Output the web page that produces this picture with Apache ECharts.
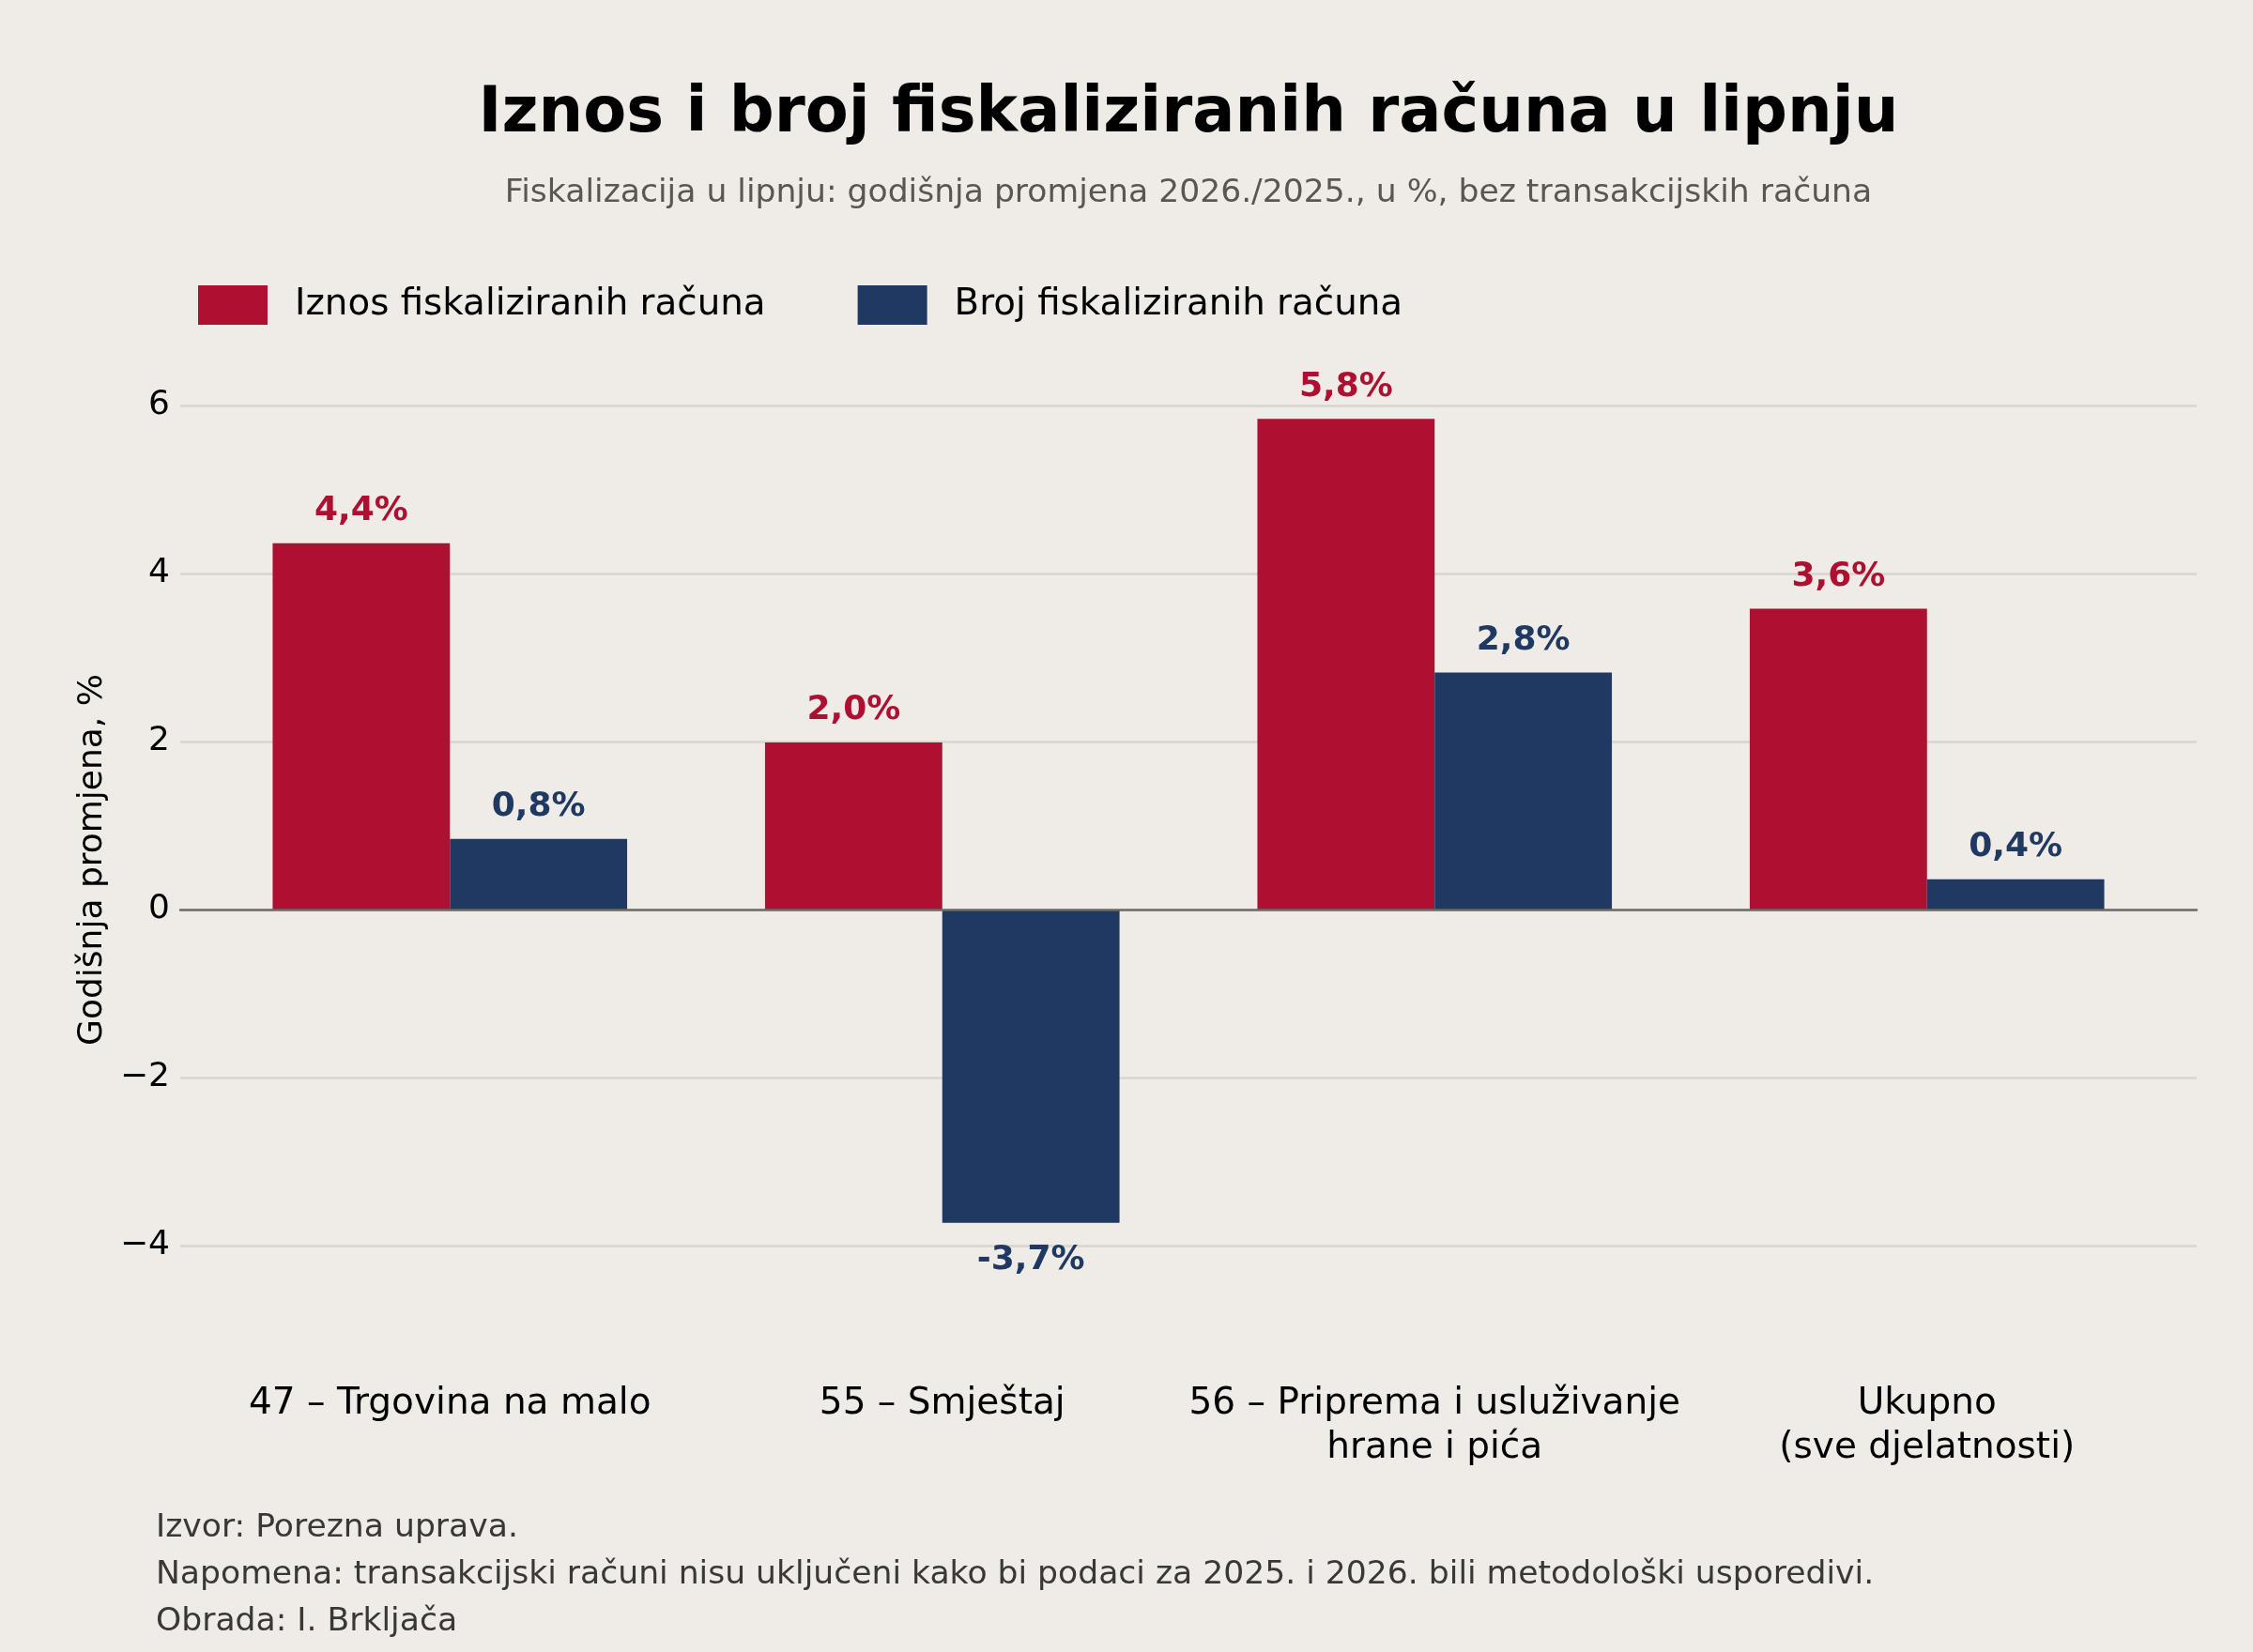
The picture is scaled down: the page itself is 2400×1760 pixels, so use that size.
<!DOCTYPE html>
<html>
<head>
<meta charset="utf-8">
<script src="https://cdn.jsdelivr.net/npm/echarts@6.0.0/dist/echarts.min.js"></script>
<style>
html, body { margin: 0; padding: 0; background: #efece7; }
#chart { width: 2400px; height: 1760px; }
</style>
</head>
<body>
<div id="chart"></div>
<script>
var kategorije = ['47 – Trgovina na malo', '55 – Smještaj', '56 – Priprema i usluživanje\nhrane i pića', 'Ukupno\n(sve djelatnosti)'];
var serije = ['Iznos fiskaliziranih računa', 'Broj fiskaliziranih računa'];
var iznos = [4.36, 1.99, 5.84, 3.58];
var broj = [0.84, -3.73, 2.82, 0.36];
var boje = ['#ad1031', '#1f3963'];

var font = 'DejaVu Sans';
var chart = echarts.init(document.getElementById('chart'));

// negativni stupci dobivaju oznaku ispod
function stavke(arr) {
	return arr.map(function (v) {
		return { value: v, label: { position: v < 0 ? 'bottom' : 'top', distance: v < 0 ? 22 : 16 } };
	});
}

function oznaka(p) {
	return p.value.toFixed(1).replace('.', ',') + '%';
}

var yOs = {
	type: 'value',
	min: -6,
	max: 8,
	interval: 2
};

var option = {
	backgroundColor: '#efece7',
	animation: false,
	title: [
		{
			text: 'Iznos i broj fiskaliziranih računa u lipnju',
			left: 1266, top: 89, textAlign: 'center', padding: 0,
			textStyle: { fontFamily: font, fontSize: 67, fontWeight: 'bold', color: '#000' }
		},
		{
			text: 'Fiskalizacija u lipnju: godišnja promjena 2026./2025., u %, bez transakcijskih računa',
			left: 1266, top: 189, textAlign: 'center', padding: 0,
			textStyle: { fontFamily: font, fontSize: 34.6, fontWeight: 'normal', color: '#5a5753' }
		},
		{
			text: 'Izvor: Porezna uprava.\nNapomena: transakcijski računi nisu uključeni kako bi podaci za 2025. i 2026. bili metodološki usporedivi.\nObrada: I. Brkljača',
			left: 166, top: 1603, padding: 0,
			textStyle: { fontFamily: font, fontSize: 34.6, fontWeight: 'normal', color: '#3a3835', lineHeight: 50 }
		}
	],
	legend: {
		data: serije,
		left: 206, top: 299,
		itemWidth: 74, itemHeight: 42, itemGap: 98,
		icon: 'rect',
		textStyle: { fontFamily: font, fontSize: 38.8, color: '#000', padding: [0, 0, 0, 24] }
	},
	graphic: [{
		type: 'text',
		x: 99, y: 916,
		rotation: Math.PI / 2,
		style: {
			text: 'Godišnja promjena, %',
			font: '36px "DejaVu Sans"',
			fill: '#000',
			align: 'center',
			verticalAlign: 'middle'
		}
	}],
	grid: [
		{ left: 192, right: 60, top: 253, bottom: 254 },
		{ left: 217, right: 85, top: 253, bottom: 254 }
	],
	xAxis: [
		{
			gridIndex: 0, type: 'category', data: kategorije,
			z: 5,
			axisLine: { show: true, onZero: true, lineStyle: { color: '#6e6a65', width: 2.5 } },
			axisTick: { show: false },
			axisLabel: { show: false }
		},
		{
			gridIndex: 1, type: 'category', data: kategorije,
			offset: -45,
			axisLine: { show: false },
			axisTick: { show: false },
			axisLabel: {
				margin: 11, interval: 0,
				fontFamily: font, fontSize: 39, color: '#000', lineHeight: 47, align: 'center'
			}
		}
	],
	yAxis: [
		Object.assign({}, yOs, {
			gridIndex: 0,
			axisLine: { show: false },
			axisTick: { show: false },
			axisLabel: {
				margin: 11, showMinLabel: false, showMaxLabel: false,
				fontFamily: font, fontSize: 36, color: '#000',
				formatter: function (v) { return v < 0 ? '\u2212' + Math.abs(v) : String(v); }
			},
			splitLine: { show: true, showMinLine: false, showMaxLine: false, lineStyle: { color: '#d9d5ce', width: 2.5 } }
		}),
		Object.assign({}, yOs, {
			gridIndex: 1,
			show: false,
			splitLine: { show: false }
		})
	],
	series: [
		{
			name: serije[0], type: 'bar', xAxisIndex: 1, yAxisIndex: 1,
			data: stavke(iznos),
			barWidth: '36%', barGap: '0%',
			itemStyle: { color: boje[0] },
			label: {
				show: true, formatter: oznaka,
				fontFamily: font, fontSize: 36, fontWeight: 'bold', color: boje[0]
			}
		},
		{
			name: serije[1], type: 'bar', xAxisIndex: 1, yAxisIndex: 1,
			data: stavke(broj),
			barWidth: '36%', barGap: '0%',
			itemStyle: { color: boje[1] },
			label: {
				show: true, formatter: oznaka,
				fontFamily: font, fontSize: 36, fontWeight: 'bold', color: boje[1]
			}
		}
	]
};

chart.setOption(option);
</script>
</body>
</html>
